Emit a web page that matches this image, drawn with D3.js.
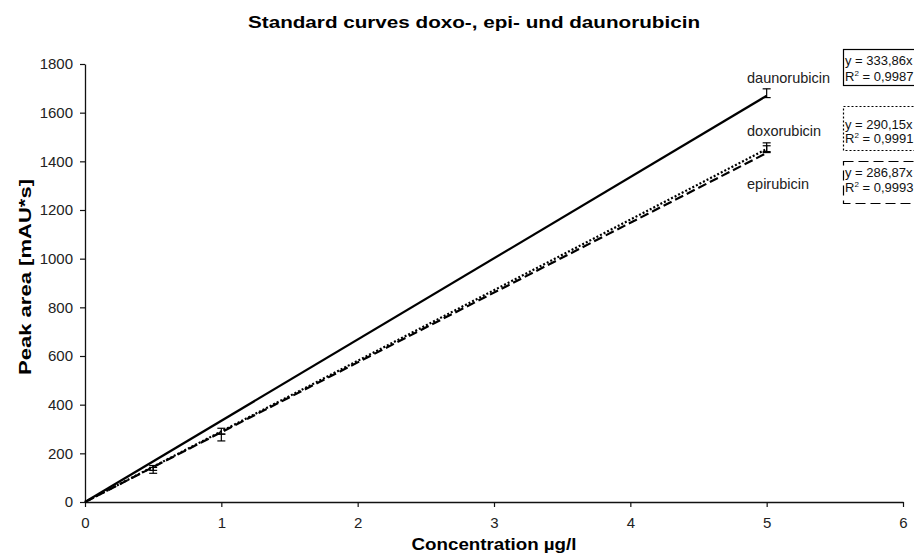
<!DOCTYPE html>
<html>
<head>
<meta charset="utf-8">
<script src="https://cdn.jsdelivr.net/npm/d3@7"></script>
<style>
    body { margin: 0; background: #fff; }
    svg { font-family: 'Liberation Sans', Arial, sans-serif; }
</style>
</head>
<body>
<svg class="chart" width="914" height="555"></svg>
<script>
// concentration ticks and curve data
const xTicks = [0, 1, 2, 3, 4, 5, 6];
const yTicks = [0, 200, 400, 600, 800, 1000, 1200, 1400, 1600, 1800];
const seriesNames = ['daunorubicin', 'doxorubicin', 'epirubicin'];
const slopes = [333.86, 290.15, 286.87];
const r2 = ['0,9987', '0,9991', '0,9993'];
const xMax = 5;

// measured points with error bars (x, mean, sd)
const daunoPoints = [[5, 1680, 18]];
const doxoPoints = [[0.5, 140, 10], [1, 291, 12], [5, 1458, 18]];
const epiPoints = [[0.5, 130, 12], [1, 265, 14], [5, 1450, 14]];

const dashes = [null, '2,2', '9,4'];
const boxDashes = [null, '2,2', '10,5'];

const svg = d3.select('.chart');

const x = d3.scaleLinear().domain([0, 6]).range([85, 903]);
const y = d3.scaleLinear().domain([0, 1800]).range([502, 64]);

/***
 * title + axis labels (reference text is a bit stretched horizontally)
 */
svg.append('text')
    .attr('x', 474)
    .attr('y', 28)
    .attr('text-anchor', 'middle')
    .attr('font-size', 17)
    .attr('font-weight', 'bold')
    .attr('textLength', 452)
    .attr('lengthAdjust', 'spacingAndGlyphs')
    .text('Standard curves doxo-, epi- und daunorubicin');

svg.append('text')
    .attr('x', 494)
    .attr('y', 550)
    .attr('text-anchor', 'middle')
    .attr('font-size', 17)
    .attr('font-weight', 'bold')
    .attr('textLength', 165)
    .attr('lengthAdjust', 'spacingAndGlyphs')
    .text('Concentration µg/l');

svg.append('text')
    .attr('transform', 'translate(31,277) rotate(-90)')
    .attr('text-anchor', 'middle')
    .attr('font-size', 17)
    .attr('font-weight', 'bold')
    .attr('textLength', 196)
    .attr('lengthAdjust', 'spacingAndGlyphs')
    .text('Peak area [mAU*s]');

/***
 * axes
 */
const xAxis = svg.append('g')
    .attr('transform', `translate(0,${y(0)})`)
    .call(d3.axisBottom(x).tickValues(xTicks).tickFormat(d3.format('d'))
        .tickSize(5).tickPadding(10).tickSizeOuter(0));

const yAxis = svg.append('g')
    .attr('transform', `translate(${x(0)},0)`)
    .call(d3.axisLeft(y).tickValues(yTicks).tickFormat(d3.format('d'))
        .tickSize(5).tickPadding(7).tickSizeOuter(0));

[xAxis, yAxis].forEach(a => {
    a.select('.domain').attr('stroke', '#111').attr('stroke-width', 1.3);
    a.selectAll('.tick line').attr('stroke', '#111').attr('stroke-width', 1.2);
    a.selectAll('.tick text')
        .attr('font-family', "'Liberation Sans', Arial, sans-serif")
        .attr('font-size', 15)
        .attr('fill', '#222');
});

/***
 * trend lines y = a*x
 */
const line = d3.line().x(d => x(d[0])).y(d => y(d[1]));

// draw dashed ones first, solid on top
[2, 1, 0].forEach(i => {
    svg.append('path')
        .datum([[0, 0], [xMax, slopes[i] * xMax]])
        .attr('d', line)
        .attr('fill', 'none')
        .attr('stroke', '#000')
        .attr('stroke-width', 2.2)
        .attr('stroke-dasharray', dashes[i]);
});

/***
 * error bars
 */
const capW = 4;
[daunoPoints, doxoPoints, epiPoints].forEach(points => {
    const g = svg.append('g').attr('stroke', '#000').attr('stroke-width', 1.2);
    points.forEach(p => {
        const cx = x(p[0]);
        const top = y(p[1] + p[2]);
        const bottom = y(p[1] - p[2]);
        g.append('line').attr('x1', cx).attr('x2', cx).attr('y1', top).attr('y2', bottom);
        g.append('line').attr('x1', cx - capW).attr('x2', cx + capW).attr('y1', top).attr('y2', top);
        g.append('line').attr('x1', cx - capW).attr('x2', cx + capW).attr('y1', bottom).attr('y2', bottom);
    });
});

/***
 * series labels and equation boxes
 */
const labelY = [83, 136, 189];
const boxTop = [49, 106, 161];
const boxH = [36, 44, 42];
const eqY = [[65, 81], [129, 143], [177, 192]];

seriesNames.forEach((name, i) => {
    svg.append('text')
        .attr('x', 747)
        .attr('y', labelY[i])
        .attr('font-size', 14.5)
        .attr('fill', '#222')
        .text(name);

    svg.append('rect')
        .attr('x', 843.5)
        .attr('y', boxTop[i] + 0.5)
        .attr('width', 80)
        .attr('height', boxH[i])
        .attr('fill', '#fff')
        .attr('stroke', '#000')
        .attr('stroke-width', 1.2)
        .attr('stroke-dasharray', boxDashes[i]);

    svg.append('text')
        .attr('x', 845)
        .attr('y', eqY[i][0])
        .attr('font-size', 13)
        .attr('fill', '#111')
        .text(`y = ${String(slopes[i]).replace('.', ',')}x`);

    const t = svg.append('text')
        .attr('x', 845)
        .attr('y', eqY[i][1])
        .attr('font-size', 13)
        .attr('fill', '#111');
    t.append('tspan').text('R');
    t.append('tspan').attr('font-size', 8).attr('dy', -5).text('2');
    t.append('tspan').attr('dy', 5).text(` = ${r2[i]}`);
});
</script>
</body>
</html>
